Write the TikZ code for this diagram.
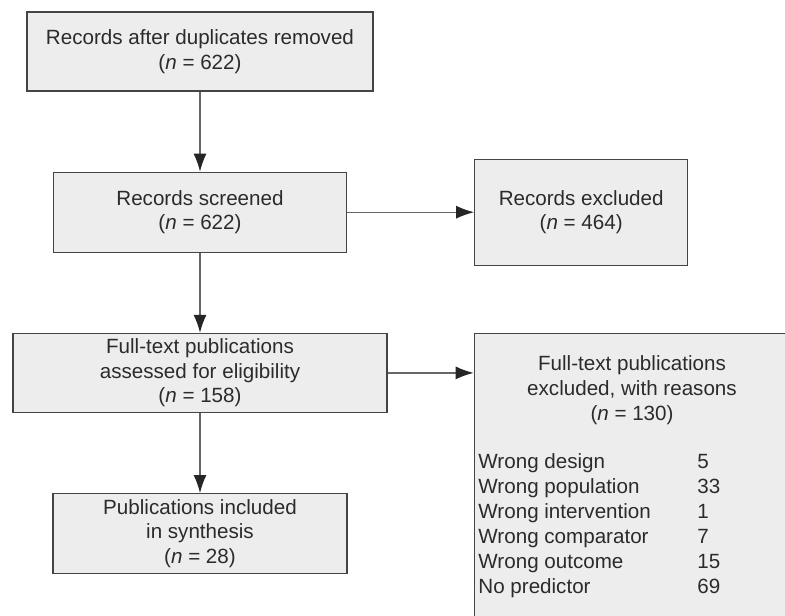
\documentclass[tikz,border=0pt]{standalone}
\usepackage{fontspec}
\setmainfont{Liberation Sans}
\usetikzlibrary{positioning, arrows.meta}
\definecolor{bfill}{HTML}{EDEDED}
\definecolor{bdraw}{HTML}{444444}
\definecolor{lgray}{HTML}{666666}
\definecolor{tgray}{HTML}{2B2B2B}

\begin{document}
\begin{tikzpicture}[
    x=0.5pt, y=-0.5pt,
    box/.style={rectangle, draw=bdraw, fill=bfill, line width=0.6pt, align=center, text=tgray, font=\fontsize{10.3}{12.3}\selectfont, inner sep=0pt},
    txt/.style={text=tgray, inner sep=0pt, font=\fontsize{10.3}{12.5}\selectfont},
    arr/.style={-{Latex[length=9pt, width=6.5pt, color=black!85]}, line width=0.6pt, lgray},
]
\useasboundingbox (0,0) rectangle (785,615);
\clip (0,0) rectangle (785,615);

\node[box, minimum width=173pt, minimum height=39.5pt] (dup) at (200,51.5) {Records after duplicates removed\\(\textit{n} = 622)};
\node[box, minimum width=146.5pt, minimum height=40pt, below=40pt of dup] (screen) {Records screened\\(\textit{n} = 622)};
\node[box, minimum width=106.5pt, minimum height=53pt, right=63.5pt of screen] (excl) {Records excluded\\(\textit{n} = 464)};
\node[box, minimum width=187pt, minimum height=39.5pt, below=40pt of screen] (full) {Full-text publications\\assessed for eligibility\\(\textit{n} = 158)};
\node[box, minimum width=147pt, minimum height=40pt, below=40pt of full] (incl) {Publications included\\in synthesis\\(\textit{n} = 28)};
\node[box, minimum width=159pt, minimum height=160pt, anchor=north west] (reason) at ([xshift=43pt]full.north east) {};

\node[txt, align=center] (reasonhead) at (632,390) {Full-text publications\\excluded, with reasons\\(\textit{n} = 130)};
\node[txt, anchor=west] (reasonlist) at (478,526) {%
  \begin{tabular}{@{}p{109.5pt}@{}l@{}}
  Wrong design & 5\\
  Wrong population & 33\\
  Wrong intervention & 1\\
  Wrong comparator & 7\\
  Wrong outcome & 15\\
  No predictor & 69
  \end{tabular}};

\draw[arr] (dup) -- (screen);
\draw[arr] (screen) -- (excl);
\draw[arr] (screen) -- (full);
\draw[arr] (full) -- (incl);
\draw[arr] (full.east) -- (full.east -| reason.west);
\end{tikzpicture}
\end{document}
